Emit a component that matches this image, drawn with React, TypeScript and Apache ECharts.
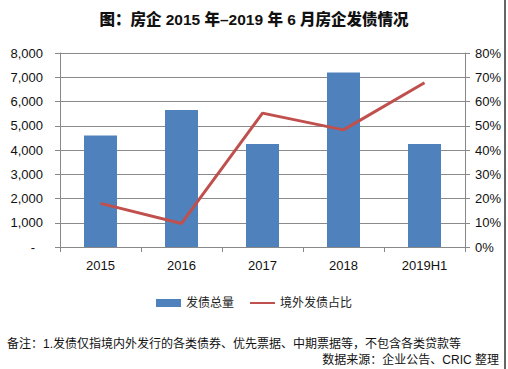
import React, { useEffect, useRef } from "react";
import * as echarts from "echarts";

const categories = ["2015", "2016", "2017", "2018", "2019H1"];
const totalIssuance = [4600, 5650, 4250, 7200, 4250];
const overseasShare = [18.0, 9.7, 55.2, 48.3, 67.7];
const seriesNames = ["发债总量", "境外发债占比"];
const titleText = "图：房企 2015 年–2019 年 6 月房企发债情况";
const noteText = "备注：1.发债仅指境内外发行的各类债券、优先票据、中期票据等，不包含各类贷款等";
const sourceText = "数据来源：企业公告、CRIC 整理";

const FONT = "Liberation Sans, Arial, Noto Sans CJK SC, sans-serif";

export default function App() {
  const ref = useRef<HTMLDivElement>(null);
  useEffect(() => {
    if (!ref.current) return;
    const chart = echarts.init(ref.current, null, { renderer: "svg" });
    chart.setOption({
      animation: false,
      backgroundColor: "#ffffff",
      textStyle: { fontFamily: FONT },
      title: {
        text: titleText,
        left: "center",
        top: 7,
        textStyle: { fontSize: 15.5, fontWeight: 900, color: "#111", fontFamily: FONT },
      },
      legend: {
        bottom: 55,
        left: "center",
        itemGap: 16,
        itemWidth: 25,
        itemHeight: 8,
        textStyle: { fontSize: 12, color: "#222", fontFamily: FONT },
        data: [
          { name: seriesNames[0], icon: "rect" },
          { name: seriesNames[1], icon: "path://M0,0 L25,0 L25,2 L0,2 Z" },
        ],
      },
      grid: { left: 60, right: 43, top: 53, bottom: 122, containLabel: false },
      xAxis: {
        type: "category",
        data: categories,
        axisLine: { lineStyle: { color: "#888" } },
        axisTick: { show: true, alignWithLabel: false, lineStyle: { color: "#888" } },
        axisLabel: { fontSize: 13, color: "#111", margin: 12 },
      },
      yAxis: [
        {
          type: "value",
          min: 0,
          max: 8000,
          interval: 1000,
          axisLine: { show: true, lineStyle: { color: "#888" } },
          axisTick: { show: true, length: 5, inside: false, lineStyle: { color: "#888" } },
          splitLine: { lineStyle: { color: "#8a8a8a" } },
          axisLabel: {
            fontSize: 13,
            color: "#111",
            margin: 17,
            formatter: (v: number) => (v === 0 ? "{d|-}" : v.toLocaleString("en-US")),
            rich: { d: { fontSize: 13, color: "#111", padding: [0, 8, 0, 0] } },
          },
        },
        {
          type: "value",
          min: 0,
          max: 80,
          interval: 10,
          axisLine: { show: true, lineStyle: { color: "#888" } },
          axisTick: { show: true, length: 5, lineStyle: { color: "#888" } },
          splitLine: { show: false },
          axisLabel: { fontSize: 13, color: "#111", margin: 10, formatter: "{value}%" },
        },
      ],
      series: [
        {
          name: seriesNames[0],
          type: "bar",
          data: totalIssuance,
          barWidth: 33,
          itemStyle: { color: "#4F81BD" },
        },
        {
          name: seriesNames[1],
          type: "line",
          yAxisIndex: 1,
          data: overseasShare,
          symbol: "none",
          lineStyle: { color: "#C0504D", width: 3 },
          itemStyle: { color: "#C0504D" },
        },
      ],
      graphic: [
        {
          type: "text",
          left: 7,
          top: 338,
          style: { text: noteText, fontSize: 12, fill: "#111", fontFamily: FONT },
        },
        {
          type: "text",
          right: 9,
          top: 354,
          style: { text: sourceText, fontSize: 12, fill: "#111", fontFamily: FONT },
        },
        {
          type: "line",
          shape: { x1: 505, y1: 0, x2: 505, y2: 369 },
          style: { stroke: "#333", lineWidth: 1.5 },
        },
      ],
    });
    return () => chart.dispose();
  }, []);
  return <div ref={ref} style={{ width: 508, height: 369, position: "absolute", left: 0, top: 0 }} />;
}
